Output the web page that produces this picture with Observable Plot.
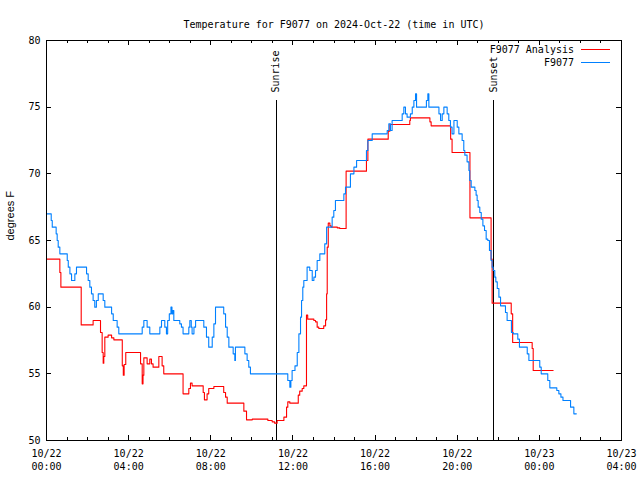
<!DOCTYPE html>
<html><head><meta charset="utf-8">
<script src="https://cdn.jsdelivr.net/npm/d3@7"></script>
<script src="https://cdn.jsdelivr.net/npm/@observablehq/plot@0.6"></script>
<style>
body{margin:0;background:#fff;}
#wrap{position:relative;width:640px;height:480px;}
#wrap svg line, #wrap svg rect{shape-rendering:crispEdges;}
.legtext{position:absolute;right:66px;font:10px "DejaVu Sans Mono",monospace;line-height:13px;white-space:pre;color:#000;}
.legline{position:absolute;left:581px;width:29px;height:0;}
</style></head><body><div id="wrap"></div>
<script>
const title = "Temperature for F9077 on 2024-Oct-22 (time in UTC)";
const yLabel = "degrees F";
const seriesNames = ["F9077 Analysis", "F9077"];
const seriesColors = ["#ff0000", "#0080ff"];
const startDate = "2024-10-22T00:00:00Z";

// observations (hours after 10/22 00:00 UTC, degrees F)
const obsHours = [0,0.23,0.28,0.47,0.52,0.57,0.65,1.01,1.06,1.14,1.22,1.38,1.46,1.95,2.03,2.11,2.19,2.27,2.35,2.43,2.52,2.76,2.84,3.17,3.25,3.44,3.52,4.66,4.74,4.90,5.03,5.52,5.60,5.76,5.84,5.90,5.98,6.06,6.11,6.15,6.20,6.49,6.57,6.65,6.93,6.98,7.05,7.09,7.18,7.26,7.66,7.79,7.90,8.07,8.15,8.23,8.63,8.72,8.80,8.88,9.09,9.17,9.20,9.66,9.77,9.85,9.93,11.75,11.85,11.90,11.96,12.10,12.21,12.29,12.37,12.42,12.48,12.53,12.69,12.82,12.94,13.02,13.10,13.18,13.31,13.55,13.64,13.91,13.99,14.07,14.48,14.56,14.80,14.97,15.10,15.58,15.65,15.86,16.59,16.67,16.75,16.83,17.32,17.40,17.48,17.56,17.72,17.81,17.89,17.97,18.02,18.50,18.57,18.62,19.11,19.19,19.27,19.35,19.51,19.59,19.67,19.75,19.84,20.00,20.08,20.24,20.32,20.37,20.48,20.57,20.61,20.68,20.86,20.92,20.97,21.02,21.10,21.17,21.25,21.33,21.41,21.49,21.57,21.65,21.70,21.75,21.83,21.88,21.95,22.03,22.11,22.35,22.43,22.64,22.73,22.95,23.03,23.41,23.49,24.02,24.09,24.41,24.51,24.85,24.95,25.05,25.15,25.52,25.68,25.80];
const obsTemps = [67.0,66.5,66.0,65.5,65.0,64.5,64.0,63.5,63.0,62.5,62.0,62.5,63.0,62.5,62.0,61.5,61.0,60.5,60.0,60.5,61.0,60.5,60.0,59.5,59.0,58.5,58.0,58.5,59.0,58.5,58.0,58.5,59.0,58.5,58.0,59.0,59.5,60.0,59.5,59.75,59.0,58.75,58.5,58.0,58.5,59.0,58.5,58.0,58.5,59.0,58.5,57.75,57.0,57.75,58.75,60.0,59.5,58.5,57.75,57.0,56.5,56.0,57.0,56.5,56.0,55.5,55.0,54.5,54.0,54.5,55.25,55.6,56.6,58.0,59.25,60.5,61.5,62.0,63.0,62.75,62.0,62.25,62.75,63.5,64.0,64.75,66.0,66.75,67.25,68.0,68.5,69.0,70.0,70.5,71.0,71.75,72.5,73.0,73.25,73.75,73.25,74.0,74.5,75.0,74.5,74.25,74.5,75.0,75.5,76.0,75.0,75.5,76.0,75.0,74.5,74.0,74.5,75.0,74.5,74.0,73.5,73.0,74.0,73.5,73.0,72.5,71.75,71.4,70.9,70.25,69.5,69.0,68.75,68.4,68.0,67.5,67.1,66.6,66.1,65.75,65.1,65.0,64.25,63.5,63.0,62.75,62.25,61.9,61.4,60.75,60.1,59.6,59.0,58.1,58.0,57.6,57.0,56.5,56.0,55.5,55.0,54.5,53.95,53.75,53.5,53.25,53.0,52.5,52.0,52.0];

// analysis
const anaHours = [0,0.65,0.70,1.69,2.27,2.63,2.71,2.76,2.79,2.84,3.00,3.17,3.28,3.69,3.74,3.78,3.86,4.58,4.66,4.70,4.74,4.90,5.03,5.11,5.19,5.47,5.63,5.71,6.65,6.93,7.01,7.09,7.63,7.69,7.82,7.90,8.15,8.63,8.72,8.80,9.61,9.74,10.02,10.78,10.99,11.11,11.23,11.56,11.69,11.75,11.85,12.26,12.33,12.45,12.53,12.66,12.72,13.02,13.10,13.18,13.26,13.50,13.59,13.64,13.67,13.72,13.80,13.86,14.16,14.28,14.59,15.58,15.65,16.64,16.72,17.69,17.72,18.67,18.73,19.68,19.75,20.62,21.65,21.70,22.63,22.70,23.65,23.70,24.67];
const anaTemps = [63.6,62.6,61.5,58.67,59.0,58.1,56.6,55.8,56.3,57.75,57.9,57.7,57.55,55.6,54.9,55.7,56.6,55.75,54.25,54.9,56.2,55.75,56.1,55.75,55.5,56.3,55.6,55.0,53.5,53.9,54.3,54.1,53.6,53.05,53.5,53.9,54.05,53.6,53.25,52.8,52.2,51.55,51.6,51.5,51.4,51.3,51.5,51.75,52.5,52.9,52.8,53.4,53.7,53.9,54.1,59.4,59.1,59.0,58.9,58.5,58.4,58.6,59.05,61.0,64.5,66.3,66.1,66.0,65.95,65.9,70.2,71.0,72.6,73.2,73.7,74.0,74.2,73.9,73.6,72.6,71.6,66.7,63.6,60.3,59.5,57.35,56.9,55.25,55.25];

const eventNames = ["Sunrise", "Sunset"];
const eventHours = [11.18, 21.76];
const eventTop = 75.5;

const yTicks = [50, 55, 60, 65, 70, 75, 80];
const xMajorHours = [0, 4, 8, 12, 16, 20, 24, 28];
const xMinorHours = [1,2,3,5,6,7,9,10,11,13,14,15,17,18,19,21,22,23,25,26,27];
const xDomainHours = [0, 28];

const t0 = new Date(startDate).getTime();
const toDate = h => new Date(t0 + h * 3600e3);
const obs = obsHours.map((h, i) => ({time: toDate(h), temp: obsTemps[i]}));
const ana = anaHours.map((h, i) => ({time: toDate(h), temp: anaTemps[i]}));
const events = eventNames.map((n, i) => ({name: n, time: toDate(eventHours[i])}));
const majors = xMajorHours.map(toDate);
const minors = xMinorHours.map(toDate);
const fmt = d3.utcFormat("%m/%d\n%H:%M");

const chart = Plot.plot({
  width: 640, height: 480,
  marginLeft: 46, marginRight: 19, marginTop: 40, marginBottom: 40,
  style: {fontFamily: "DejaVu Sans Mono", fontSize: "10px", background: "#fff", color: "#000", overflow: "visible"},
  x: {type: "utc", domain: xDomainHours.map(toDate)},
  y: {domain: [yTicks[0], yTicks[yTicks.length - 1]]},
  marks: [
    Plot.tickX(minors, {x: d => d, insetTop: 397, stroke: "#000"}),
    Plot.tickX(minors, {x: d => d, insetBottom: 397, stroke: "#000"}),
    Plot.tickX(majors, {x: d => d, insetTop: 395, stroke: "#000"}),
    Plot.tickX(majors, {x: d => d, insetBottom: 395, stroke: "#000"}),
    Plot.tickY(yTicks, {y: d => d, insetRight: 570, stroke: "#000"}),
    Plot.tickY(yTicks, {y: d => d, insetLeft: 570, stroke: "#000"}),
    Plot.axisX(majors, {tickSize: 0, tickPadding: 7, tickFormat: fmt, lineHeight: 1.3, label: null}),
    Plot.axisY(yTicks, {tickSize: 0, tickPadding: 6, label: null}),
    Plot.text([yLabel], {frameAnchor: "left", dx: -36, rotate: -90, fontFamily: "Liberation Sans", fontSize: 11}),
    Plot.text([title], {frameAnchor: "top", dy: -20}),
    Plot.ruleX(events, {x: "time", y1: yTicks[0], y2: eventTop, stroke: "#000"}),
    Plot.text(events, {x: "time", y: eventTop, dy: -8, rotate: -90, textAnchor: "start", text: "name"}),
    Plot.line(ana, {x: "time", y: "temp", curve: "step-after", stroke: seriesColors[0], strokeWidth: 1.1}),
    Plot.line(obs, {x: "time", y: "temp", curve: "step-after", stroke: seriesColors[1], strokeWidth: 1.1}),
    Plot.frame({stroke: "#000"})
  ]
});
const wrap = document.getElementById("wrap");
wrap.appendChild(chart);
seriesNames.forEach((n, i) => {
  const t = document.createElement("div");
  t.className = "legtext"; t.textContent = n; t.style.top = (43 + 13 * i) + "px";
  wrap.appendChild(t);
  const l = document.createElement("div");
  l.className = "legline"; l.style.top = (49 + 13 * i) + "px";
  l.style.borderTop = "1px solid " + seriesColors[i];
  wrap.appendChild(l);
});
</script></body></html>
